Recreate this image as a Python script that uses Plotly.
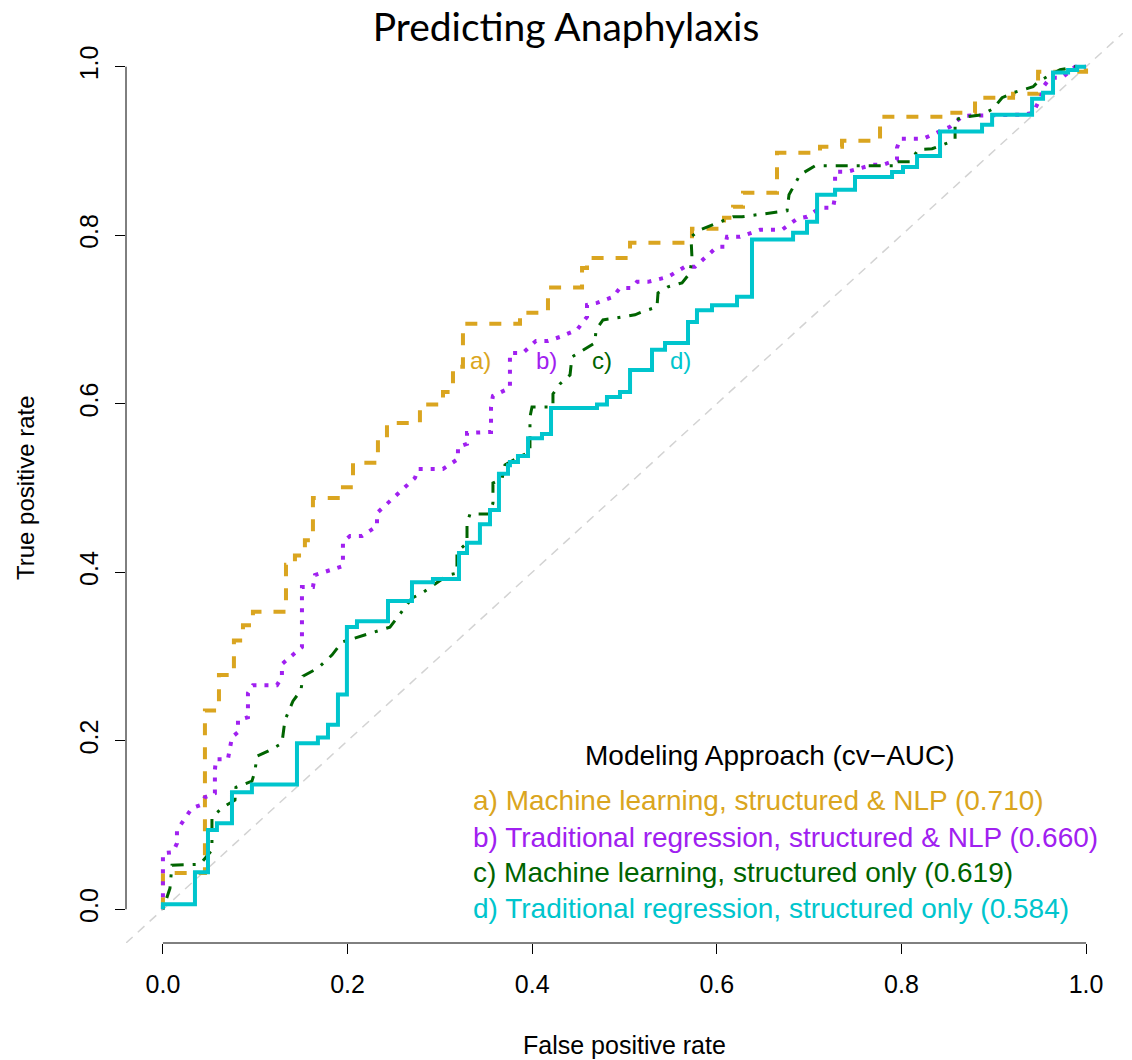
import plotly.graph_objects as go

# ---------------- data ----------------
# a) Machine learning, structured & NLP  (step corners, drawn horizontal-then-vertical)
fpr_a = [0, 0, 0.0455, 0.0607, 0.0769, 0.0867, 0.0975, 0.1333, 0.1430, 0.1538, 0.1625,
         0.1950, 0.2059, 0.2329, 0.2427, 0.2784, 0.3034, 0.3142, 0.3250, 0.3868, 0.4171,
         0.4540, 0.4594, 0.5060, 0.5731, 0.6078, 0.6176, 0.6284, 0.6652, 0.7118, 0.7356,
         0.7768, 0.8472, 0.8797, 0.9209, 0.9480, 1.0]
tpr_a = [0, 0.043, 0.236, 0.278, 0.319, 0.337, 0.353, 0.409, 0.420, 0.438, 0.488,
         0.501, 0.530, 0.557, 0.577, 0.599, 0.614, 0.644, 0.695, 0.708, 0.738,
         0.761, 0.773, 0.791, 0.8076, 0.8207, 0.8337, 0.8504, 0.8979, 0.9050, 0.9121,
         0.9406, 0.9454, 0.9632, 0.9679, 0.9941, 1.0]

# b) Traditional regression, structured & NLP (vertices)
fpr_b = [0, 0, 0.0108, 0.0152, 0.0152, 0.0260, 0.0314, 0.0401, 0.0455, 0.0563, 0.0563,
         0.0574, 0.0704, 0.0748, 0.0813, 0.0813, 0.0921, 0.0921, 0.0975, 0.1235, 0.1289,
         0.1289, 0.1506, 0.1506, 0.1625, 0.1647, 0.1950, 0.1950, 0.2026, 0.2156, 0.2319,
         0.2319, 0.2730, 0.2763, 0.3034, 0.3196, 0.3196, 0.3294, 0.3294, 0.3554, 0.3554,
         0.3575, 0.3759, 0.3759, 0.3900, 0.4041, 0.4171, 0.4301, 0.4485, 0.4594, 0.4594,
         0.4702, 0.4875, 0.4951, 0.5081, 0.5135, 0.5255, 0.5471, 0.5655, 0.5764, 0.6002,
         0.6089, 0.6111, 0.6251, 0.6468, 0.6706, 0.6869, 0.6977, 0.7118, 0.7259, 0.7281,
         0.7281, 0.7411, 0.7692, 0.7801, 0.7952, 0.7952, 0.7985, 0.8234, 0.8527, 0.8667,
         0.9318, 0.9426, 0.9512, 0.9545, 0.9610, 0.9740, 0.9881, 1.0]
tpr_b = [0, 0.0665, 0.0677, 0.0784, 0.0938, 0.1116, 0.1200, 0.1235, 0.1330, 0.1378, 0.1651,
         0.1781, 0.1781, 0.2043, 0.2102, 0.2245, 0.2280, 0.2565, 0.2660, 0.2660, 0.2755,
         0.2910, 0.3112, 0.3824, 0.3824, 0.3967, 0.4074, 0.4359, 0.4430, 0.4430, 0.4549,
         0.4703, 0.5119, 0.5226, 0.5226, 0.5344, 0.5487, 0.5523, 0.5653, 0.5665, 0.5962,
         0.6093, 0.6188, 0.6603, 0.6603, 0.6746, 0.6746, 0.6793, 0.6876, 0.7031, 0.7173,
         0.7197, 0.7268, 0.7375, 0.7375, 0.7447, 0.7447, 0.7506, 0.7625, 0.7625, 0.7862,
         0.7862, 0.7981, 0.7981, 0.8064, 0.8064, 0.8195, 0.8219, 0.8325, 0.8325, 0.8456,
         0.8753, 0.8753, 0.8836, 0.8836, 0.8895, 0.9038, 0.9145, 0.9145, 0.9287, 0.9418,
         0.9430, 0.9454, 0.9644, 0.9774, 0.9869, 0.9869, 1.0, 1.0]

# c) Machine learning, structured only (vertices)
fpr_c = [0, 0.0076, 0.0098, 0.0401, 0.0531, 0.0531, 0.0650, 0.0780, 0.0791, 0.0964, 0.0997,
         0.1018, 0.1138, 0.1289, 0.1322, 0.1408, 0.1495, 0.1517, 0.1679, 0.1831, 0.1939,
         0.2113, 0.2243, 0.2459, 0.2535, 0.2698, 0.2806, 0.3088, 0.3185, 0.3185, 0.3294,
         0.3294, 0.3326, 0.3543, 0.3575, 0.3575, 0.3673, 0.3705, 0.3835, 0.3976, 0.3976,
         0.3998, 0.4225, 0.4225, 0.4301, 0.4410, 0.4431, 0.4518, 0.4680, 0.4691, 0.4767,
         0.4919, 0.5114, 0.5190, 0.5352, 0.5363, 0.5471, 0.5623, 0.5710, 0.5731, 0.5720,
         0.5818, 0.6176, 0.6273, 0.6761, 0.6782, 0.6901, 0.7064, 0.7931, 0.7931, 0.8093,
         0.8180, 0.8332, 0.8505, 0.8581, 0.8581, 0.8711, 0.8873, 0.8993, 0.9090, 0.9209,
         0.9426, 0.9480, 0.9577, 0.9718, 0.9881, 1.0]
tpr_c = [0, 0.0249, 0.0523, 0.0534, 0.0701, 0.1093, 0.1211, 0.1295, 0.1449, 0.1520, 0.1639,
         0.1817, 0.1876, 0.1971, 0.2245, 0.2470, 0.2601, 0.2767, 0.2862, 0.3017, 0.3171,
         0.3230, 0.3278, 0.3349, 0.3456, 0.3694, 0.3753, 0.3967, 0.3990, 0.4240, 0.4347,
         0.4584, 0.4691, 0.4691, 0.4822, 0.5059, 0.5107, 0.5273, 0.5356, 0.5428, 0.5843,
         0.5962, 0.5962, 0.6116, 0.6235, 0.6342, 0.6556, 0.6615, 0.6722, 0.6876, 0.6995,
         0.7019, 0.7055, 0.7090, 0.7150, 0.7316, 0.7387, 0.7435, 0.7553, 0.7732, 0.7981,
         0.8064, 0.8219, 0.8219, 0.8290, 0.8480, 0.8717, 0.8824, 0.8824, 0.8872, 0.8872,
         0.9014, 0.9026, 0.9097, 0.9145, 0.9371, 0.9406, 0.9430, 0.9501, 0.9632, 0.9691,
         0.9762, 0.9822, 0.9881, 0.9964, 1.0, 1.0]

# d) Traditional regression, structured only (step corners, horizontal-then-vertical)
fpr_d = [0, 0, 0.0347, 0.0488, 0.0585, 0.0748, 0.0964, 0.1452, 0.1679, 0.1788, 0.1896,
         0.1993, 0.2102, 0.2438, 0.2698, 0.2925, 0.3207, 0.3294, 0.3434, 0.3543, 0.3640,
         0.3738, 0.3759, 0.3846, 0.3955, 0.4106, 0.4204, 0.4702, 0.4810, 0.4951, 0.5060,
         0.5298, 0.5439, 0.5688, 0.5785, 0.5948, 0.6219, 0.6381, 0.6826, 0.6977, 0.7086,
         0.7281, 0.7497, 0.7898, 0.8017, 0.8169, 0.8418, 0.8873, 0.8982, 0.9415, 0.9534,
         0.9642, 0.9805, 0.9903, 1.0]
tpr_d = [0, 0.006, 0.044, 0.094, 0.102, 0.139, 0.148, 0.197, 0.204, 0.219, 0.255,
         0.335, 0.342, 0.366, 0.388, 0.392, 0.423, 0.435, 0.457, 0.474, 0.517,
         0.527, 0.531, 0.538, 0.559, 0.564, 0.595, 0.599, 0.608, 0.614, 0.640,
         0.664, 0.672, 0.697, 0.711, 0.717, 0.727, 0.795, 0.803, 0.816, 0.848,
         0.854, 0.869, 0.875, 0.881, 0.894, 0.923, 0.931, 0.943, 0.962, 0.969,
         0.993, 0.996, 1.0, 1.0]

curve_tags = ["a)", "b)", "c)", "d)"]
tag_x = [0.3445, 0.415, 0.4756, 0.561]
tag_y = [0.651, 0.651, 0.651, 0.651]

legend_title = "Modeling Approach (cv\u2212AUC)"
legend_labels = [
    "a) Machine learning, structured & NLP (0.710)",
    "b) Traditional regression, structured & NLP (0.660)",
    "c) Machine learning, structured only (0.619)",
    "d) Traditional regression, structured only (0.584)",
]
tick_vals = [0.0, 0.2, 0.4, 0.6, 0.8, 1.0]
tick_text = ["0.0", "0.2", "0.4", "0.6", "0.8", "1.0"]

# ---------------- styling ----------------
colors = ["#DAA520", "#A020F0", "#006400", "#00C5CD"]
FONT = "Liberation Sans, Arial, sans-serif"

fig = go.Figure()

fig.add_shape(type="line", xref="x", yref="y", x0=-0.04, y0=-0.04, x1=1.04, y1=1.04,
              line=dict(color="#D3D3D3", width=1.5, dash="9px,7px"), layer="below")

fig.add_trace(go.Scatter(x=fpr_a, y=tpr_a, mode="lines", line_shape="hv",
                         line=dict(color=colors[0], width=4, dash="12px,12px")))
fig.add_trace(go.Scatter(x=fpr_b, y=tpr_b, mode="lines",
                         line=dict(color=colors[1], width=4, dash="4px,8px")))
fig.add_trace(go.Scatter(x=fpr_c, y=tpr_c, mode="lines",
                         line=dict(color=colors[2], width=3, dash="3px,9px,12px,9px")))
fig.add_trace(go.Scatter(x=fpr_d, y=tpr_d, mode="lines", line_shape="hv",
                         line=dict(color=colors[3], width=4)))

# axis lines spanning only 0..1 (R style)
fig.add_shape(type="line", xref="x", yref="paper", x0=0, x1=1, y0=0, y1=0,
              line=dict(color="black", width=1))
fig.add_shape(type="line", xref="paper", yref="y", x0=0, x1=0, y0=0, y1=1,
              line=dict(color="black", width=1))

annotations = []
for t, x, y, c in zip(curve_tags, tag_x, tag_y, colors):
    annotations.append(dict(x=x, y=y, xref="x", yref="y", text=t, showarrow=False,
                            font=dict(family=FONT, size=24, color=c),
                            xanchor="center", yanchor="middle"))

annotations.append(dict(x=0.658, y=0.183, xref="x", yref="y", text=legend_title,
                        showarrow=False, font=dict(family=FONT, size=28, color="black"),
                        xanchor="center", yanchor="middle"))
leg_y = [0.1295, 0.0855, 0.0439, 0.0012]
for lab, y, c in zip(legend_labels, leg_y, colors):
    annotations.append(dict(x=0.334, y=y, xref="x", yref="y", text=lab, showarrow=False,
                            font=dict(family=FONT, size=28, color=c),
                            xanchor="left", yanchor="middle"))

annotations.append(dict(x=0.5, y=-0.112, xref="x", yref="paper", text="False positive rate",
                        showarrow=False, font=dict(family=FONT, size=25, color="black"),
                        xanchor="center", yanchor="middle"))
annotations.append(dict(x=-0.1013, y=0.5, xref="paper", yref="y", text="True positive rate",
                        showarrow=False, textangle=-90,
                        font=dict(family=FONT, size=24, color="black"),
                        xanchor="center", yanchor="middle"))

fig.update_layout(
    width=1132, height=1060, autosize=False,
    margin=dict(l=126, r=9, t=33, b=117),
    paper_bgcolor="white", plot_bgcolor="white",
    showlegend=False,
    title=dict(text="Predicting Anaphylaxis", x=0.5, xref="container", xanchor="center",
               y=1 - 27 / 1060, yref="container", yanchor="middle",
               font=dict(family="Lato, Open Sans, sans-serif", size=39, color="black")),
    annotations=annotations,
    xaxis=dict(range=[-0.04, 1.04], showgrid=False, zeroline=False, showline=False,
               tickmode="array", tickvals=tick_vals, ticktext=tick_text,
               ticks="outside", ticklen=10, tickwidth=1, tickcolor="black",
               ticklabelstandoff=9,
               tickfont=dict(family=FONT, size=25, color="black")),
    yaxis=dict(range=[-0.04, 1.04], showgrid=False, zeroline=False, showline=False,
               tickmode="array", tickvals=tick_vals, ticktext=tick_text,
               ticks="outside", ticklen=10, tickwidth=1, tickcolor="black",
               tickangle=-90, ticklabelstandoff=7,
               tickfont=dict(family=FONT, size=25, color="black")),
)

fig.write_html("out.html")
